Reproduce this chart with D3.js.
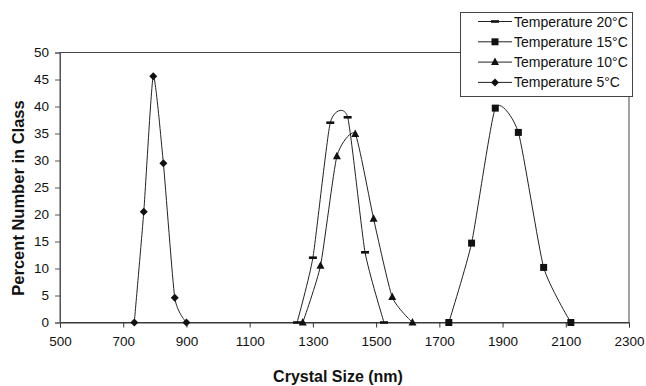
<!DOCTYPE html>
<html>
<head>
<meta charset="utf-8">
<script src="https://cdn.jsdelivr.net/npm/d3@7"></script>
<style>
  body { margin: 0; background: #fff; }
  text { font-family: "Liberation Sans", Arial, sans-serif; fill: #111; }
</style>
</head>
<body>
<div id="chart"></div>
<script>
// data
const sizes20 = [1250, 1300, 1355, 1410, 1465, 1525];
const values20 = [0, 12, 37, 38, 13, 0];

const sizes15 = [1730, 1802, 1877, 1950, 2030, 2116];
const values15 = [0, 14.7, 39.7, 35.2, 10.2, 0];

const sizes10 = [1268, 1324, 1376, 1434, 1492, 1551, 1615];
const values10 = [0, 10.5, 30.8, 34.9, 19.2, 4.7, 0];

const sizes5 = [735, 765, 795, 827, 863, 900];
const values5 = [0, 20.5, 45.6, 29.5, 4.6, 0];

const seriesNames = ['Temperature 20°C', 'Temperature 15°C', 'Temperature 10°C', 'Temperature 5°C'];
const xTicks = [500, 700, 900, 1100, 1300, 1500, 1700, 1900, 2100, 2300];
const yTicks = [0, 5, 10, 15, 20, 25, 30, 35, 40, 45, 50];

const width = 646, height = 386;
const plot = { left: 60, right: 629, top: 52.5, bottom: 322.5 };

const svg = d3.select('#chart').append('svg')
  .attr('width', width)
  .attr('height', height);

const x = d3.scaleLinear().domain([500, 2300]).range([plot.left, plot.right]);
const y = d3.scaleLinear().domain([0, 50]).range([plot.bottom, plot.top]);

const series = [
  { name: seriesNames[0], marker: 'dash', values: sizes20.map((s, i) => ({ size: s, value: values20[i] })) },
  { name: seriesNames[1], marker: 'square', values: sizes15.map((s, i) => ({ size: s, value: values15[i] })) },
  { name: seriesNames[2], marker: 'triangle', values: sizes10.map((s, i) => ({ size: s, value: values10[i] })) },
  { name: seriesNames[3], marker: 'diamond', values: sizes5.map((s, i) => ({ size: s, value: values5[i] })) }
];

// plot frame
svg.append('rect')
  .attr('x', plot.left)
  .attr('y', plot.top)
  .attr('width', plot.right - plot.left)
  .attr('height', plot.bottom - plot.top)
  .attr('fill', 'none')
  .attr('stroke', '#444')
  .attr('stroke-width', 1);

// axes
const xAxis = d3.axisBottom(x).tickValues(xTicks).tickFormat(d3.format('d')).tickSize(5).tickPadding(6);
const yAxis = d3.axisLeft(y).tickValues(yTicks).tickFormat(d3.format('d')).tickSize(5).tickPadding(6);

svg.append('g')
  .attr('transform', `translate(0, ${plot.bottom})`)
  .call(xAxis)
  .call(g => g.selectAll('text').attr('font-size', 13.5).attr('fill', '#111').attr('dy', '0.9em'))
  .call(g => g.selectAll('line, path').attr('stroke', '#333'));

svg.append('g')
  .attr('transform', `translate(${plot.left}, 0)`)
  .call(yAxis)
  .call(g => g.selectAll('text').attr('font-size', 13.5).attr('fill', '#111'))
  .call(g => g.selectAll('line, path').attr('stroke', '#555'));

svg.selectAll('.domain').attr('stroke-width', 1);

// axis titles
svg.append('text')
  .attr('x', 338)
  .attr('y', 382)
  .attr('text-anchor', 'middle')
  .attr('font-size', 16)
  .attr('font-weight', 'bold')
  .text('Crystal Size (nm)');

svg.append('text')
  .attr('transform', 'translate(24, 198) rotate(-90)')
  .attr('text-anchor', 'middle')
  .attr('font-size', 16.5)
  .attr('font-weight', 'bold')
  .text('Percent Number in Class');

// markers
const markerPath = {
  dash: 'M-4,-1.3H4V1.3H-4Z',
  square: 'M-3.5,-3.5H3.5V3.5H-3.5Z',
  triangle: 'M0,-4.5L4,3L-4,3Z',
  diamond: 'M0,-4L4,0L0,4L-4,0Z'
};

// smoothed lines, a bit tighter than plain Catmull-Rom
const line = d3.line()
  .x(d => x(d.size))
  .y(d => y(d.value))
  .curve(d3.curveCardinal.tension(0.45));

const $series = svg.append('g')
  .selectAll('.series')
  .data(series)
  .enter()
  .append('g')
  .attr('class', 'series');

$series.append('path')
  .attr('d', d => line(d.values))
  .attr('fill', 'none')
  .attr('stroke', '#222')
  .attr('stroke-width', 1);

$series.each(function(s) {
  d3.select(this).selectAll('.pt')
    .data(s.values)
    .enter()
    .append('path')
    .attr('class', 'pt')
    .attr('transform', d => `translate(${x(d.size)}, ${y(d.value)})`)
    .attr('d', markerPath[s.marker])
    .attr('fill', '#111');
});

// legend
const legend = svg.append('g');

legend.append('rect')
  .attr('x', 460.5)
  .attr('y', 12.5)
  .attr('width', 172)
  .attr('height', 84)
  .attr('fill', '#fff')
  .attr('stroke', '#444');

const $items = legend.selectAll('.item')
  .data(series)
  .enter()
  .append('g')
  .attr('class', 'item')
  .attr('transform', (d, i) => `translate(0, ${21.5 + i * 20.3})`);

$items.append('line')
  .attr('x1', 478)
  .attr('x2', 512)
  .attr('stroke', '#222');

$items.append('path')
  .attr('transform', 'translate(495, 0)')
  .attr('d', d => markerPath[d.marker])
  .attr('fill', '#111');

$items.append('text')
  .attr('x', 514)
  .attr('dy', '0.36em')
  .attr('font-size', 14)
  .text(d => d.name);
</script>
</body>
</html>
